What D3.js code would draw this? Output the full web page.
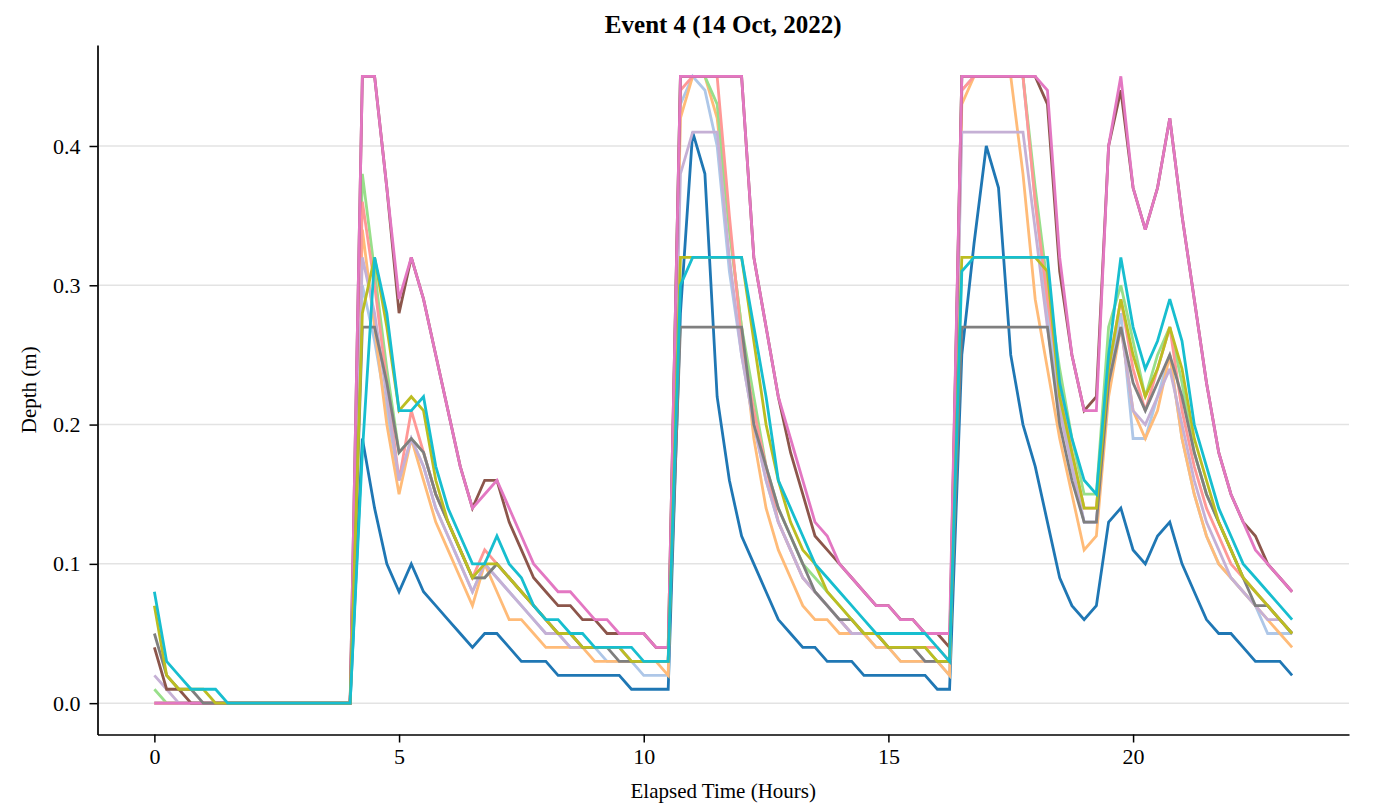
<!DOCTYPE html>
<html>
<head>
<meta charset="utf-8">
<script src="https://cdn.jsdelivr.net/npm/d3@7"></script>
<style>
  html, body { margin: 0; padding: 0; background: #ffffff; }
  svg { display: block; }
</style>
</head>
<body>
<svg id="chart" width="1391" height="805"></svg>
<script>
// ---------------- DATA ----------------
const chartTitle = "Event 4 (14 Oct, 2022)";
const xLabel = "Elapsed Time (Hours)";
const yLabel = "Depth (m)";
const timeStepHours = 0.25;            // one sample every 15 minutes
const xTickValues = [0, 5, 10, 15, 20];
const yTickValues = [0.0, 0.1, 0.2, 0.3, 0.4];
const zeros10 = [0,0,0,0,0,0,0,0,0,0];

const seriesBlue = [0,0,0,0,0,0,0, ...zeros10,
  .19,.14,.10,.08,.10,.08,.07,.06,.05,.04,.05,.05,.04,.03,.03,.03,.02,.02,.02,.02,.02,.02,.01,.01,.01,.01,
  .28,.41,.38,.22,.16,.12,.10,.08,.06,.05,.04,.04,.03,.03,.03,.02,.02,.02,.02,.02,.02,.01,.01,
  .25,.33,.40,.37,.25,.20,.17,.13,.09,.07,.06,.07,.13,.14,.11,.10,.12,.13,.10,.08,.06,.05,.05,.04,.03,.03,.03,.02];

const seriesLightBlue = [0,0,0,0,0,0,0, ...zeros10,
  .30,.26,.21,.16,.19,.17,.14,.12,.10,.08,.10,.09,.08,.07,.06,.05,.05,.04,.04,.04,.03,.03,.03,.02,.02,.02,
  .43,.45,.44,.40,.31,.25,.20,.16,.13,.11,.09,.08,.07,.06,.05,.05,.04,.04,.03,.03,.03,.03,.02,
  .44,.45,.45,.45,.45,.45,.36,.28,.22,.17,.13,.13,.23,.28,.19,.19,.22,.25,.19,.15,.12,.10,.09,.08,.07,.05,.05,.05];

const seriesLightOrange = [0,0,0,0,0,0,0, ...zeros10,
  .34,.27,.20,.15,.19,.16,.13,.11,.09,.07,.10,.08,.06,.06,.05,.04,.04,.04,.04,.03,.03,.03,.03,.03,.03,.02,
  .42,.45,.45,.42,.34,.27,.19,.14,.11,.09,.07,.06,.06,.05,.05,.05,.04,.04,.03,.03,.03,.03,.02,
  .43,.45,.45,.45,.45,.38,.29,.24,.19,.15,.11,.12,.22,.27,.21,.19,.21,.25,.19,.15,.12,.10,.09,.08,.07,.06,.05,.04];

const seriesLightGreen = [.01,0,0,0,0,0,0, ...zeros10,
  .38,.31,.24,.18,.19,.18,.15,.13,.11,.09,.09,.10,.09,.08,.07,.06,.05,.05,.04,.04,.04,.04,.03,.03,.03,.03,
  .45,.45,.45,.43,.34,.27,.22,.17,.14,.12,.10,.09,.08,.07,.06,.05,.05,.04,.04,.04,.04,.03,.03,
  .45,.45,.45,.45,.45,.45,.37,.30,.24,.19,.15,.15,.27,.30,.26,.22,.25,.27,.23,.18,.15,.13,.11,.09,.08,.07,.06,.05];

const seriesLightRed = [0,0,0,0,0,0,0, ...zeros10,
  .36,.30,.23,.16,.21,.18,.15,.13,.11,.09,.11,.10,.09,.08,.07,.06,.05,.05,.04,.04,.04,.04,.03,.03,.03,.03,
  .44,.45,.45,.45,.35,.26,.21,.17,.13,.11,.09,.08,.07,.06,.05,.05,.05,.04,.04,.04,.04,.04,.03,
  .44,.45,.45,.45,.45,.45,.36,.29,.23,.18,.14,.14,.24,.29,.24,.21,.24,.27,.21,.17,.14,.12,.10,.09,.08,.07,.06,.05];

const seriesLightPurple = [.02,.01,0,0,0,0,0, ...zeros10,
  .32,.28,.22,.16,.19,.17,.14,.12,.10,.08,.10,.09,.08,.07,.06,.05,.05,.04,.04,.04,.04,.04,.03,.03,.03,.03,
  .38,.41,.41,.41,.32,.25,.20,.16,.13,.11,.09,.08,.07,.06,.05,.05,.05,.04,.04,.04,.03,.03,.03,
  .41,.41,.41,.41,.41,.41,.34,.27,.21,.17,.13,.13,.23,.27,.21,.20,.22,.24,.20,.16,.13,.11,.09,.08,.07,.06,.06,.05];

const seriesBrown = [.04,.01,.01,0,0,0,0, ...zeros10,
  .45,.45,.37,.28,.32,.29,.25,.21,.17,.14,.16,.16,.13,.11,.09,.08,.07,.07,.06,.06,.05,.05,.05,.05,.04,.04,
  .45,.45,.45,.45,.45,.45,.32,.27,.22,.18,.15,.12,.11,.10,.09,.08,.07,.07,.06,.06,.05,.05,.04,
  .45,.45,.45,.45,.45,.45,.45,.43,.31,.25,.21,.22,.40,.44,.37,.34,.37,.42,.35,.29,.23,.18,.15,.13,.12,.10,.09,.08];

const seriesPink = [0,0,0,0,0,0,0, ...zeros10,
  .45,.45,.37,.29,.32,.29,.25,.21,.17,.14,.15,.16,.14,.12,.10,.09,.08,.08,.07,.06,.06,.05,.05,.05,.04,.04,
  .45,.45,.45,.45,.45,.45,.32,.27,.22,.19,.16,.13,.12,.10,.09,.08,.07,.07,.06,.06,.05,.05,.05,
  .45,.45,.45,.45,.45,.45,.45,.44,.32,.25,.21,.21,.40,.45,.37,.34,.37,.42,.35,.29,.23,.18,.15,.13,.11,.10,.09,.08];

const seriesGray = [.05,.02,.01,.01,0,0,0, ...zeros10,
  .27,.27,.23,.18,.19,.18,.15,.13,.11,.09,.09,.10,.09,.08,.07,.06,.05,.05,.04,.04,.04,.03,.03,.03,.03,.03,
  .27,.27,.27,.27,.27,.27,.20,.17,.14,.12,.10,.08,.07,.06,.06,.05,.05,.04,.04,.04,.03,.03,.03,
  .27,.27,.27,.27,.27,.27,.27,.27,.20,.16,.13,.13,.23,.27,.23,.21,.23,.25,.22,.18,.15,.13,.11,.09,.07,.07,.06,.05];

const seriesOlive = [.07,.02,.01,.01,.01,0,0, ...zeros10,
  .28,.32,.27,.21,.22,.21,.16,.13,.11,.09,.10,.10,.09,.08,.07,.06,.05,.05,.04,.04,.04,.04,.03,.03,.03,.03,
  .32,.32,.32,.32,.32,.32,.26,.20,.16,.13,.11,.10,.08,.07,.06,.05,.05,.04,.04,.04,.04,.03,.03,
  .32,.32,.32,.32,.32,.32,.32,.31,.22,.18,.14,.14,.24,.29,.25,.22,.24,.27,.24,.19,.16,.13,.11,.09,.08,.07,.06,.05];

const seriesCyan = [.08,.03,.02,.01,.01,.01,0, ...zeros10,
  .18,.32,.28,.21,.21,.22,.17,.14,.12,.10,.10,.12,.10,.09,.07,.06,.06,.05,.05,.04,.04,.04,.04,.03,.03,.03,
  .30,.32,.32,.32,.32,.32,.27,.22,.16,.14,.12,.10,.09,.08,.07,.06,.05,.05,.05,.05,.05,.04,.03,
  .31,.32,.32,.32,.32,.32,.32,.32,.23,.19,.16,.15,.25,.32,.27,.24,.26,.29,.26,.20,.17,.14,.12,.10,.09,.08,.07,.06];

const seriesList = [seriesBlue, seriesLightBlue, seriesLightOrange, seriesLightGreen, seriesLightRed,
  seriesLightPurple, seriesBrown, seriesPink, seriesGray, seriesOlive, seriesCyan];
const seriesColors = ["#1f77b4", "#aec7e8", "#ffbb78", "#98df8a", "#ff9896",
  "#c5b0d5", "#8c564b", "#e377c2", "#7f7f7f", "#bcbd22", "#17becf"];

// ---------------- DRAW ----------------
const svg = d3.select("#chart");
const W = 1391, H = 805;
const plot = { left: 97.5, right: 1349, top: 45, bottom: 734.5 };
const FONT = "'Liberation Serif', 'Times New Roman', Times, serif";

const nPts = seriesBlue.length;
const tMax = (nPts - 1) * timeStepHours;
const xPad = tMax * 0.05;
const yMax = d3.max(seriesList.flat());
const yPad = yMax * 0.05;

const x = d3.scaleLinear().domain([-xPad, tMax + xPad]).range([plot.left, plot.right]);
const y = d3.scaleLinear().domain([-yPad, yMax + yPad]).range([plot.bottom, plot.top]);

svg.append("rect").attr("width", W).attr("height", H).attr("fill", "#ffffff");

// grid
svg.append("g").selectAll("line").data(yTickValues).join("line")
  .attr("x1", plot.left).attr("x2", plot.right)
  .attr("y1", d => y(d)).attr("y2", d => y(d))
  .attr("stroke", "#e3e3e3").attr("stroke-width", 1.5);

// lines
const line = d3.line().x((d, i) => x(i * timeStepHours)).y(d => y(d));
svg.append("g").selectAll("path").data(seriesList).join("path")
  .attr("d", d => line(d))
  .attr("fill", "none")
  .attr("stroke", (d, i) => seriesColors[i])
  .attr("stroke-width", 2.8)
  .attr("stroke-linejoin", "miter")
  .attr("stroke-miterlimit", 3);

// axes
const xAxis = svg.append("g").attr("transform", `translate(0,${plot.bottom})`)
  .call(d3.axisBottom(x).tickValues(xTickValues).tickFormat(d3.format("d")).tickSize(8).tickSizeOuter(0).tickPadding(6));
const yAxis = svg.append("g").attr("transform", `translate(${plot.left},0)`)
  .call(d3.axisLeft(y).tickValues(yTickValues).tickFormat(d3.format(".1f")).tickSize(8).tickSizeOuter(0).tickPadding(9));

[xAxis, yAxis].forEach(g => {
  g.select(".domain").attr("stroke", "#000").attr("stroke-width", 1.7);
  g.selectAll(".tick line").attr("stroke", "#000").attr("stroke-width", 1.5);
  g.selectAll(".tick text").attr("fill", "#000").style("font-family", FONT).style("font-size", "22px");
});

// title and labels
svg.append("text").attr("x", (plot.left + plot.right) / 2).attr("y", 33)
  .attr("text-anchor", "middle").style("font-family", FONT).style("font-weight", "bold")
  .style("font-size", "25px").attr("fill", "#000").text(chartTitle);

svg.append("text").attr("x", (plot.left + plot.right) / 2).attr("y", 798)
  .attr("text-anchor", "middle").style("font-family", FONT)
  .style("font-size", "21px").attr("fill", "#000").text(xLabel);

svg.append("text").attr("transform", `translate(36,${(plot.top + plot.bottom) / 2}) rotate(-90)`)
  .attr("text-anchor", "middle").style("font-family", FONT)
  .style("font-size", "21px").attr("fill", "#000").text(yLabel);
</script>
</body>
</html>
